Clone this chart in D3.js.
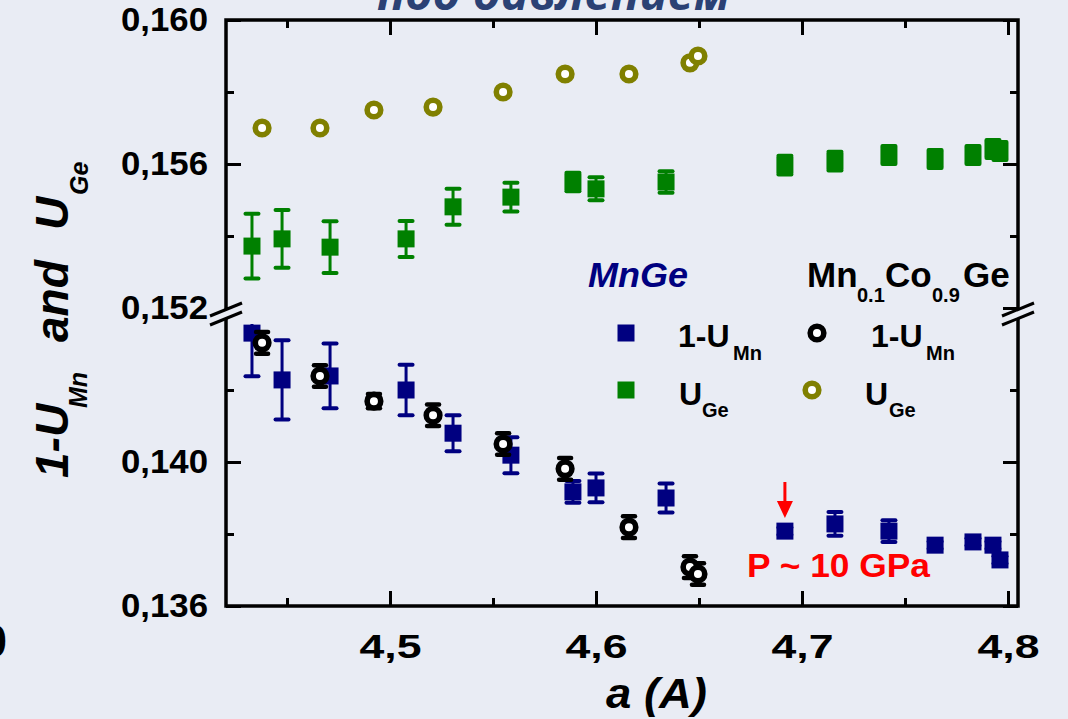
<!DOCTYPE html>
<html><head><meta charset="utf-8">
<script src="https://cdn.jsdelivr.net/npm/d3@7"></script>
<style>
html,body{margin:0;padding:0;background:#e9ecf4;}
svg{display:block;font-family:"Liberation Sans",Arial,sans-serif;}
</style></head><body>
<svg id="chart" width="1068" height="719"></svg>
<script>
// ---- data: MnGe ----
const aMnGe = [4.4330, 4.4476, 4.4709, 4.5078, 4.5306, 4.5587, 4.5888, 4.6000, 4.6340, 4.6917, 4.7160, 4.7422, 4.7646, 4.7830, 4.7927, 4.7961];
const uGeMnGe = [0.15372, 0.15392, 0.15369, 0.15392, 0.15481, 0.15508, 0.15550, 0.15531, 0.15550, 0.15597, 0.15608, 0.15625, 0.15614, 0.15625, 0.15642, 0.15636];
const uGeMnGeErr = [0.0009, 0.0008, 0.00072, 0.0005, 0.0005, 0.0004, 0.00026, 0.00032, 0.0003, 0.00026, 0.00026, 0.00025, 0.00025, 0.00025, 0.00025, 0.00025];
const uMnMnGe = [0.14358, 0.14228, 0.14239, 0.14200, 0.14080, 0.14019, 0.13917, 0.13928, 0.13900, 0.13808, 0.13828, 0.13808, 0.13769, 0.13778, 0.13769, 0.13728];
const uMnMnGeErr = [0.0012, 0.0011, 0.0009, 0.0007, 0.0005, 0.0005, 0.0003, 0.0004, 0.0004, 0.0001, 0.00033, 0.0003, 0.0001, 0.0001, 0.0001, 0.0001];
// ---- data: Mn0.1Co0.9Ge ----
const aCo = [4.4379, 4.4660, 4.4922, 4.5209, 4.5549, 4.5850, 4.6160, 4.6456, 4.6495];
const uGeCo = [0.15700, 0.15700, 0.15750, 0.15758, 0.15800, 0.15850, 0.15850, 0.15881, 0.15900];
const uMnCo = [0.14331, 0.14239, 0.14169, 0.14130, 0.14050, 0.13981, 0.13819, 0.13708, 0.13689];
const uMnCoErr = [0.0003, 0.0003, 0.0002, 0.0003, 0.0003, 0.0003, 0.0003, 0.0003, 0.0003];
// ---- ticks ----
const xMajor = [4.5, 4.6, 4.7, 4.8];
const xMinor = [4.45, 4.55, 4.65, 4.75];
const yMajor = [0.136, 0.140, 0.152, 0.156, 0.160];
const yMinor = [0.138, 0.142, 0.154, 0.158];
const yBreakLow = 0.14425, yBreakHigh = 0.152;

const W = 1068, H = 719, BG = "#e9ecf4";
const NAVY = "#000080", GREEN = "#008000", OLIVE = "#808000";
const svg = d3.select("#chart");
svg.append("rect").attr("width", W).attr("height", H).attr("fill", BG);

const x = d3.scaleLinear().domain([4.42039, 4.80485]).range([226, 1018]);
const y = d3.scaleLinear().domain([0.136, yBreakLow, yBreakHigh, 0.160]).range([606, 309, 308, 20]);
const X0 = x.range()[0], X1 = x.range()[1], Y0 = 606, Y1 = 20;

const fmtX = d => d3.format(".1f")(d).replace(".", ",");
const fmtY = d => d3.format(".3f")(d).replace(".", ",");

function styleAxis(g, len) {
  g.select(".domain").remove();
  g.selectAll(".tick line").attr("stroke", "#000").attr("stroke-width", 3);
  g.selectAll(".tick text").attr("fill", "#000").attr("font-size", 34).attr("font-weight", "bold")
    .attr("font-family", '"Liberation Sans", Arial, sans-serif');
  if (len) g.selectAll(".tick text").attr("textLength", len).attr("lengthAdjust", "spacingAndGlyphs");
}
// bottom
svg.append("g").attr("transform", `translate(0,${Y0})`)
  .call(d3.axisBottom(x).tickValues(xMajor).tickSize(-15).tickSizeOuter(0).tickPadding(28).tickFormat(fmtX))
  .call(g => styleAxis(g, 62));
svg.append("g").attr("transform", `translate(0,${Y0})`)
  .call(d3.axisBottom(x).tickValues(xMinor).tickSize(-8).tickSizeOuter(0).tickFormat(""))
  .call(g => styleAxis(g));
// top
svg.append("g").attr("transform", `translate(0,${Y1})`)
  .call(d3.axisTop(x).tickValues(xMajor).tickSize(-15).tickSizeOuter(0).tickFormat(""))
  .call(g => styleAxis(g));
svg.append("g").attr("transform", `translate(0,${Y1})`)
  .call(d3.axisTop(x).tickValues(xMinor).tickSize(-8).tickSizeOuter(0).tickFormat(""))
  .call(g => styleAxis(g));
// left
svg.append("g").attr("transform", `translate(${X0},0)`)
  .call(d3.axisLeft(y).tickValues(yMajor).tickSize(-15).tickSizeOuter(0).tickPadding(18).tickFormat(fmtY))
  .call(g => styleAxis(g, 87));
svg.append("g").attr("transform", `translate(${X0},0)`)
  .call(d3.axisLeft(y).tickValues(yMinor).tickSize(-8).tickSizeOuter(0).tickFormat(""))
  .call(g => styleAxis(g));
// right
svg.append("g").attr("transform", `translate(${X1},0)`)
  .call(d3.axisRight(y).tickValues(yMajor).tickSize(-15).tickSizeOuter(0).tickFormat(""))
  .call(g => styleAxis(g));
svg.append("g").attr("transform", `translate(${X1},0)`)
  .call(d3.axisRight(y).tickValues(yMinor).tickSize(-8).tickSizeOuter(0).tickFormat(""))
  .call(g => styleAxis(g));

// frame
svg.append("rect").attr("x", X0).attr("y", Y1).attr("width", X1 - X0).attr("height", Y0 - Y1)
  .attr("fill", "none").attr("stroke", "#000").attr("stroke-width", 3.5);

// axis breaks
const yb = y(yBreakHigh);
[X0, X1].forEach(ax => {
  const l1 = [[ax - 16, yb + 8], [ax + 16, yb - 5]];
  const l2 = [[ax - 16, yb + 17], [ax + 16, yb + 4]];
  svg.append("polygon").attr("points", [l1[0], l1[1], l2[1], l2[0]].map(p => p.join(",")).join(" "))
    .attr("fill", BG);
  [l1, l2].forEach(l => svg.append("line")
    .attr("x1", l[0][0]).attr("y1", l[0][1]).attr("x2", l[1][0]).attr("y2", l[1][1])
    .attr("stroke", "#000").attr("stroke-width", 3));
});

// clip for lower segment
svg.append("clipPath").attr("id", "lowClip").append("rect")
  .attr("x", X0).attr("y", 324).attr("width", X1 - X0).attr("height", Y0 - 324 + 20);

function errorBars(g, xs, vs, es, color, capW, sw) {
  xs.forEach((a, i) => {
    const cx = x(a), ylo = y(vs[i] - es[i]), yhi = y(vs[i] + es[i]);
    g.append("line").attr("x1", cx).attr("x2", cx).attr("y1", ylo).attr("y2", yhi)
      .attr("stroke", color).attr("stroke-width", sw);
    [ylo, yhi].forEach(yy => g.append("line").attr("x1", cx - capW / 2).attr("x2", cx + capW / 2)
      .attr("y1", yy).attr("y2", yy).attr("stroke", color).attr("stroke-width", sw + 1)
      .attr("stroke-linecap", "round"));
  });
}
function squares(g, xs, vs, color) {
  g.selectAll(null).data(xs).enter().append("rect")
    .attr("x", (d) => x(d) - 8.5).attr("y", (d, i) => y(vs[i]) - 8.5)
    .attr("width", 17).attr("height", 17).attr("fill", color);
}
function circles(g, xs, vs, color) {
  g.selectAll(null).data(xs).enter().append("circle")
    .attr("cx", d => x(d)).attr("cy", (d, i) => y(vs[i])).attr("r", 6.8)
    .attr("fill", "#fff").attr("stroke", color).attr("stroke-width", 5.6);
}

// upper series
const gUp = svg.append("g");
errorBars(gUp, aMnGe, uGeMnGe, uGeMnGeErr, GREEN, 13, 3);
squares(gUp, aMnGe, uGeMnGe, GREEN);
circles(gUp, aCo, uGeCo, OLIVE);
// lower series
const gLow = svg.append("g").attr("clip-path", "url(#lowClip)");
errorBars(gLow, aMnGe, uMnMnGe, uMnMnGeErr, NAVY, 13, 3);
squares(gLow, aMnGe, uMnMnGe, NAVY);
errorBars(gLow, aCo, uMnCo, uMnCoErr, "#000", 12, 3.5);
circles(gLow, aCo, uMnCo, "#000");

// text helper
function txt(t, px, py, size, opts = {}) {
  const e = svg.append("text").attr("x", px).attr("y", py).attr("font-size", size)
    .attr("font-weight", "bold").attr("fill", opts.fill || "#000").text(t);
  if (opts.italic) e.attr("font-style", "italic");
  if (opts.anchor) e.attr("text-anchor", opts.anchor);
  if (opts.len) e.attr("textLength", opts.len).attr("lengthAdjust", "spacingAndGlyphs");
  if (opts.family) e.attr("font-family", opts.family);
  return e;
}

// legend
svg.append("rect").attr("x", 617.5).attr("y", 324.5).attr("width", 17).attr("height", 17).attr("fill", NAVY);
svg.append("rect").attr("x", 617.5).attr("y", 381.5).attr("width", 17).attr("height", 17).attr("fill", GREEN);
svg.append("circle").attr("cx", 817).attr("cy", 333).attr("r", 6.8).attr("fill", "#fff").attr("stroke", "#000").attr("stroke-width", 5.6);
svg.append("circle").attr("cx", 812).attr("cy", 390).attr("r", 6.8).attr("fill", "#fff").attr("stroke", OLIVE).attr("stroke-width", 5.6);
txt("1-U", 678, 347, 32); txt("Mn", 733, 360, 20);
txt("U", 679, 405, 32); txt("Ge", 702, 417, 20);
txt("1-U", 871, 347, 32); txt("Mn", 926, 360, 20);
txt("U", 865, 405, 32); txt("Ge", 889, 417, 20);

txt("MnGe", 588, 287, 35, { italic: true, fill: NAVY, len: 100 });
txt("Mn", 807, 287, 35); txt("0.1", 857, 302, 20); txt("Co", 885, 287, 35);
txt("0.9", 932, 302, 20); txt("Ge", 963, 287, 35);

// pressure annotation
txt("P ~ 10 GPa", 747, 577, 34, { fill: "#ff0000", len: 183 });
const ax = x(4.6917);
svg.append("line").attr("x1", ax).attr("x2", ax).attr("y1", 482).attr("y2", 505)
  .attr("stroke", "#ff0000").attr("stroke-width", 3);
svg.append("polygon").attr("points", `${ax - 8},501 ${ax + 8},501 ${ax},518`).attr("fill", "#ff0000");

// axis titles
txt("a (A)", 606, 708, 42, { italic: true, len: 101 });
const gy = svg.append("g").attr("transform", "rotate(-90)");
function rtxt(t, px, py, size) {
  return gy.append("text").attr("x", px).attr("y", py).attr("font-size", size)
    .attr("font-weight", "bold").attr("font-style", "italic").attr("fill", "#000").text(t);
}
rtxt("1-U", -478, 68, 46);
rtxt("Mn", -408, 87, 25);
rtxt("and", -342, 68, 46);
rtxt("U", -230, 68, 46);
rtxt("Ge", -195, 88, 25);

// cut-off page elements
txt("под давлением", 377, 10, 46, { italic: true, fill: "#2b4174", len: 353, family: '"Open Sans", "Liberation Sans", Arial, sans-serif' });
txt("0", 7, 657, 46, { anchor: "end" });
</script>
</body></html>
